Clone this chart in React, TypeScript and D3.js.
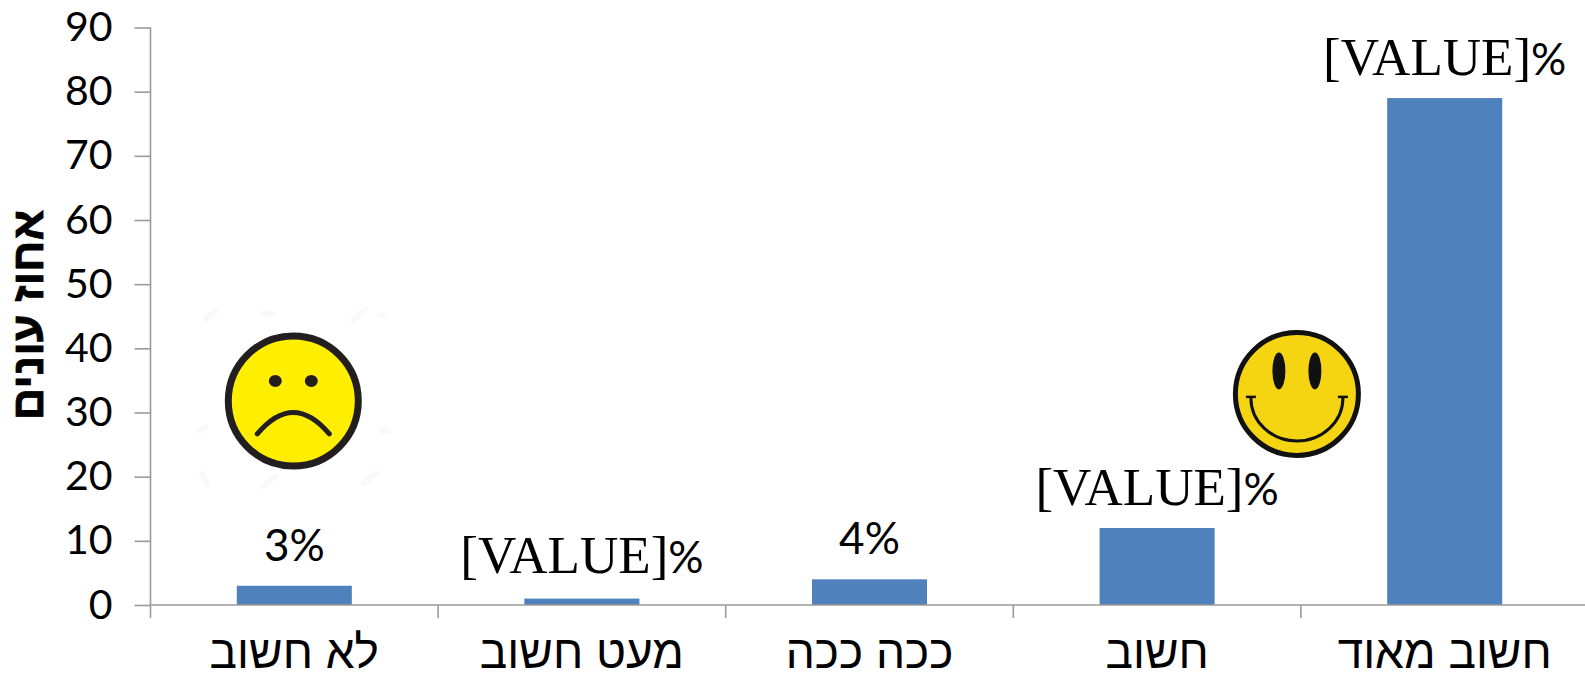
import React, { useEffect, useRef } from "react";
import * as d3 from "d3";

const categories = ["לא חשוב", "מעט חשוב", "ככה ככה", "חשוב", "חשוב מאוד"];
const values = [3, 1, 4, 12, 79];
const labelTexts = ["3", "[VALUE]", "4", "[VALUE]", "[VALUE]"];
const yTicks = [0, 10, 20, 30, 40, 50, 60, 70, 80, 90];
const yTitle = "אחוז עונים";

const W = 1585, H = 677;
const SERIF = "'Liberation Serif', serif";
const SANS = "Lato, sans-serif";
const HEB = "'Liberation Sans', 'DejaVu Sans', sans-serif";

export default function App() {
  const ref = useRef<SVGSVGElement>(null);
  useEffect(() => {
    const svg = d3.select(ref.current!);
    svg.selectAll("*").remove();
    const x = d3.scaleBand<string>().domain(categories).range([150.5, 1588.5]).paddingInner(0).paddingOuter(0);
    const y = d3.scaleLinear().domain([0, 90]).range([605, 27.5]);
    const axisColor = "#9a9a9a";

    // bars
    const bw = x.bandwidth() * 0.4;
    svg.selectAll("rect.bar").data(values).join("rect").attr("class", "bar")
      .attr("x", (_, i) => x(categories[i])! + x.bandwidth() / 2 - bw / 2)
      .attr("width", bw)
      .attr("y", d => y(d))
      .attr("height", d => y(0) - y(d))
      .attr("fill", "#4f81bd");

    // y axis
    const gy = svg.append("g").attr("transform", "translate(150.5,0)")
      .call(d3.axisLeft(y).tickValues(yTicks).tickSize(16).tickPadding(22));
    gy.selectAll("path,line").attr("stroke", axisColor).attr("stroke-width", 1.6);
    gy.select(".domain").attr("d", `M0,${y(90)}V${y(0)}`);
    gy.selectAll("text").attr("font-family", SANS).attr("font-size", 41).attr("fill", "#000");

    // x axis
    const gx = svg.append("g").attr("transform", `translate(0,${y(0)})`);
    gx.append("line").attr("x1", 150.5).attr("x2", W).attr("stroke", axisColor).attr("stroke-width", 1.6);
    categories.forEach(c => {
      gx.append("line").attr("x1", x(c)!).attr("x2", x(c)!).attr("y2", 13)
        .attr("stroke", axisColor).attr("stroke-width", 1.6);
      gx.append("text").attr("x", x(c)! + x.bandwidth() / 2).attr("y", 63)
        .attr("text-anchor", "middle").attr("font-family", HEB).attr("font-size", 46).attr("fill", "#000").text(c);
    });

    // value labels
    const labelOffsets = [25, 26, 25, 23, 23];
    values.forEach((v, i) => {
      const t = svg.append("text")
        .attr("x", x(categories[i])! + x.bandwidth() / 2)
        .attr("y", y(v) - labelOffsets[i])
        .attr("text-anchor", "middle").attr("direction", "ltr").attr("fill", "#000");
      const big = labelTexts[i].length > 1;
      t.append("tspan").attr("font-family", big ? SERIF : SANS).attr("font-size", big ? 53 : 44).text(labelTexts[i]);
      t.append("tspan").attr("font-family", SANS).attr("font-size", 44).text("%");
    });

    // y title
    svg.append("text").attr("transform", "translate(43,315) rotate(-90)")
      .attr("text-anchor", "middle").attr("font-family", HEB).attr("font-weight", "bold")
      .attr("font-size", 45).attr("fill", "#000").attr("stroke", "#000").attr("stroke-width", 0.8).text(yTitle);

    // faint speckles left around the pasted sad-face picture
    const sx = x(categories[0])! + x.bandwidth() / 2 - 1, sy = y(31.8);
    const speckles = [[-88, -82, -78, -90], [-30, -88, -20, -86], [60, -80, 72, -92], [88, -86, 92, -86], [-92, 72, -86, 82], [-30, 85, -18, 76], [70, 82, 84, 72], [88, 30, 94, 30], [-94, 30, -88, 26]];
    svg.append("g").attr("transform", `translate(${sx},${sy})`).selectAll("line").data(speckles).join("line")
      .attr("x1", d => d[0]).attr("y1", d => d[1]).attr("x2", d => d[2]).attr("y2", d => d[3])
      .attr("stroke", "#f9f9f9").attr("stroke-width", 6).attr("stroke-linecap", "round");

    // sad face
    const sad = svg.append("g").attr("transform", `translate(${sx},${sy})`);
    sad.append("circle").attr("r", 65).attr("fill", "#ffee00").attr("stroke", "#231f20").attr("stroke-width", 7);
    sad.selectAll("ellipse").data([-18, 18]).join("ellipse")
      .attr("cx", d => d).attr("cy", -20).attr("rx", 6.5).attr("ry", 6).attr("fill", "#231f20");
    sad.append("path").attr("d", "M-36,33 Q0,-10 36,33")
      .attr("fill", "none").attr("stroke", "#231f20").attr("stroke-width", 5).attr("stroke-linecap", "round");

    // happy face
    const hx = x(categories[3])! + x.bandwidth() - 4, hy = y(32.9);
    const happy = svg.append("g").attr("transform", `translate(${hx},${hy})`);
    happy.append("circle").attr("r", 61.5).attr("fill", "#f5d512").attr("stroke", "#111").attr("stroke-width", 5);
    happy.selectAll("ellipse").data([-18, 18]).join("ellipse")
      .attr("cx", d => d).attr("cy", -23).attr("rx", 6.5).attr("ry", 18.5).attr("fill", "#111");
    happy.append("path").attr("d", "M-46,4 A46,43 0 0 0 46,4")
      .attr("fill", "none").attr("stroke", "#111").attr("stroke-width", 3);
    happy.selectAll("line").data([-46, 46]).join("line")
      .attr("x1", d => d - 5).attr("x2", d => d + 5).attr("y1", 3).attr("y2", 3)
      .attr("stroke", "#111").attr("stroke-width", 2.5);
  }, []);
  return <svg ref={ref} width={W} height={H} style={{ position: "absolute", left: 0, top: 0, background: "#fff" }} />;
}
